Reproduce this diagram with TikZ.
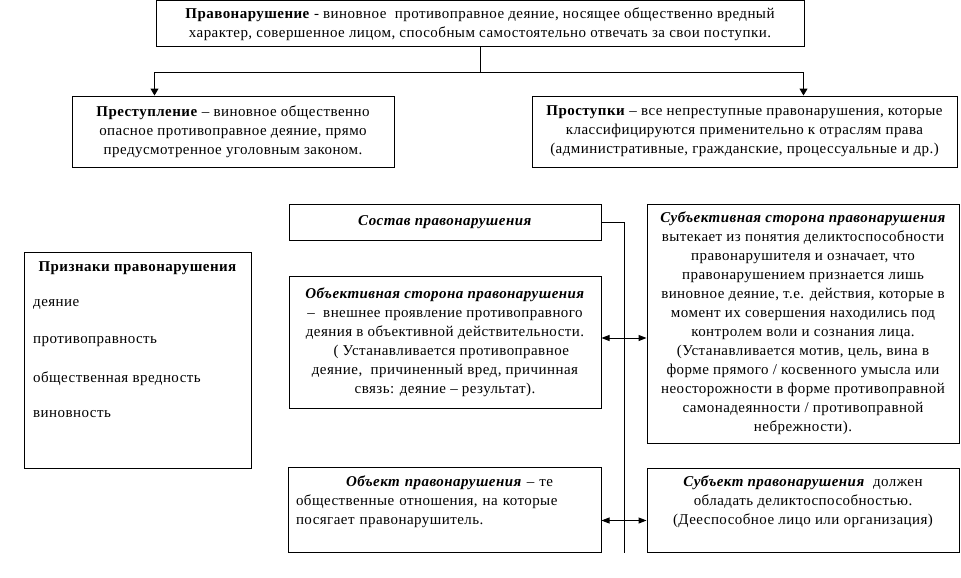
\documentclass[tikz,border=0pt]{standalone}
\usepackage{fontspec}
\setmainfont[LetterSpace=3]{Liberation Serif}
\usepackage{tikz}
\usetikzlibrary{arrows.meta,positioning,calc}

\begin{document}
\begin{tikzpicture}[x=1pt,y=-1pt,
    box/.style={draw,line width=1pt,inner sep=0pt,align=center,font=\fontsize{15}{19}\selectfont},
    txt/.style={inner sep=0pt,font=\fontsize{15}{19}\selectfont},
    arr/.style={-{Triangle[length=7pt,width=8pt]},line width=1pt},
    dbl/.style={{Triangle[length=8pt,width=6pt]}-{Triangle[length=8pt,width=6pt]},line width=1pt}
  ]
    \useasboundingbox (0,0) rectangle (961,578);
    \node[box,minimum width=648,minimum height=46](offence) at (480,24)
      {\textbf{Правонарушение} - виновное\ \ противоправное деяние, носящее общественно вредный\\
       характер, совершенное лицом, способным самостоятельно отвечать за свои поступки.};
    \node[box,minimum width=322,minimum height=71](crime) at (233,131.5)
      {\textbf{Преступление} – виновное общественно\\опасное противоправное деяние, прямо\\предусмотренное уголовным законом.};
    \node[box,minimum width=425,minimum height=71](misdeed) at (744.5,131.5)
      {\textbf{Проступки} – все непреступные правонарушения, которые\\классифицируются применительно к отраслям права\\(административные, гражданские, процессуальные и др.)};
    \coordinate (jn) at (480,73);
    \draw[line width=1pt](offence.south)--(jn);
    \draw[arr](jn)-|([xshift=83]crime.north west);
    \draw[arr](jn)-|([xshift=272]misdeed.north west);

    \node[box,minimum width=312,minimum height=36](compo) at (445,222)
      {\textbf{\textit{Состав правонарушения}}};
    \node[box,minimum width=312,minimum height=132](objside) at (445,342)
      {\textbf{\textit{Объективная сторона правонарушения}}\\
       – \ внешнее проявление противоправного\\
       деяния в объективной действительности.\\
       \ \ \ ( Устанавливается противоправное\\
       деяние,\ \ причиненный вред, причинная\\
       связь: деяние – результат).};
    \node[box,minimum width=312,minimum height=239](subjside) at (803,323.5)
      {\textbf{\textit{Субъективная сторона правонарушения}}\\
       вытекает из понятия деликтоспособности\\
       правонарушителя и означает, что\\
       правонарушением признается лишь\\
       виновное деяние, т.е. действия, которые в\\
       момент их совершения находились под\\
       контролем воли и сознания лица.\\
       (Устанавливается мотив, цель, вина в\\
       форме прямого / косвенного умысла или\\
       неосторожности в форме противоправной\\
       самонадеянности / противоправной\\
       небрежности).};
    \node[box,minimum width=313,minimum height=85,text width=297,align=left](object) at (444.5,509.5)
      {\hspace*{50pt}\textbf{\textit{Объект правонарушения}} – те\\
       общественные отношения, на которые\\
       посягает правонарушитель.\\ \mbox{}};
    \node[box,minimum width=312,minimum height=84](subject) at (803,510)
      {\textbf{\textit{Субъект правонарушения}}\ \ должен\\
       обладать деликтоспособностью.\\
       (Дееспособное лицо или организация)\\ \mbox{}};
    \coordinate (sp) at (624,553);
    \draw[line width=1pt](compo.east)-|(sp);
    \draw[dbl]([yshift=4]objside.east)--([yshift=4]objside.east-|subjside.west);
    \draw[dbl]([yshift=-11]object.east)--([yshift=-11]object.east-|subject.west);

    \node[box,minimum width=227,minimum height=216](signs) at (137.5,360){};
    \node[txt,font=\fontsize{15}{19}\selectfont\bfseries](signsT) at (137.5,268){Признаки правонарушения};
    \foreach \t/\y [count=\i] in {деяние/304,противоправность/342,общественная вредность/379,виновность/414}
      \node[txt,anchor=west](sign\i) at (33,\y){\t};
  \end{tikzpicture}
\end{document}
